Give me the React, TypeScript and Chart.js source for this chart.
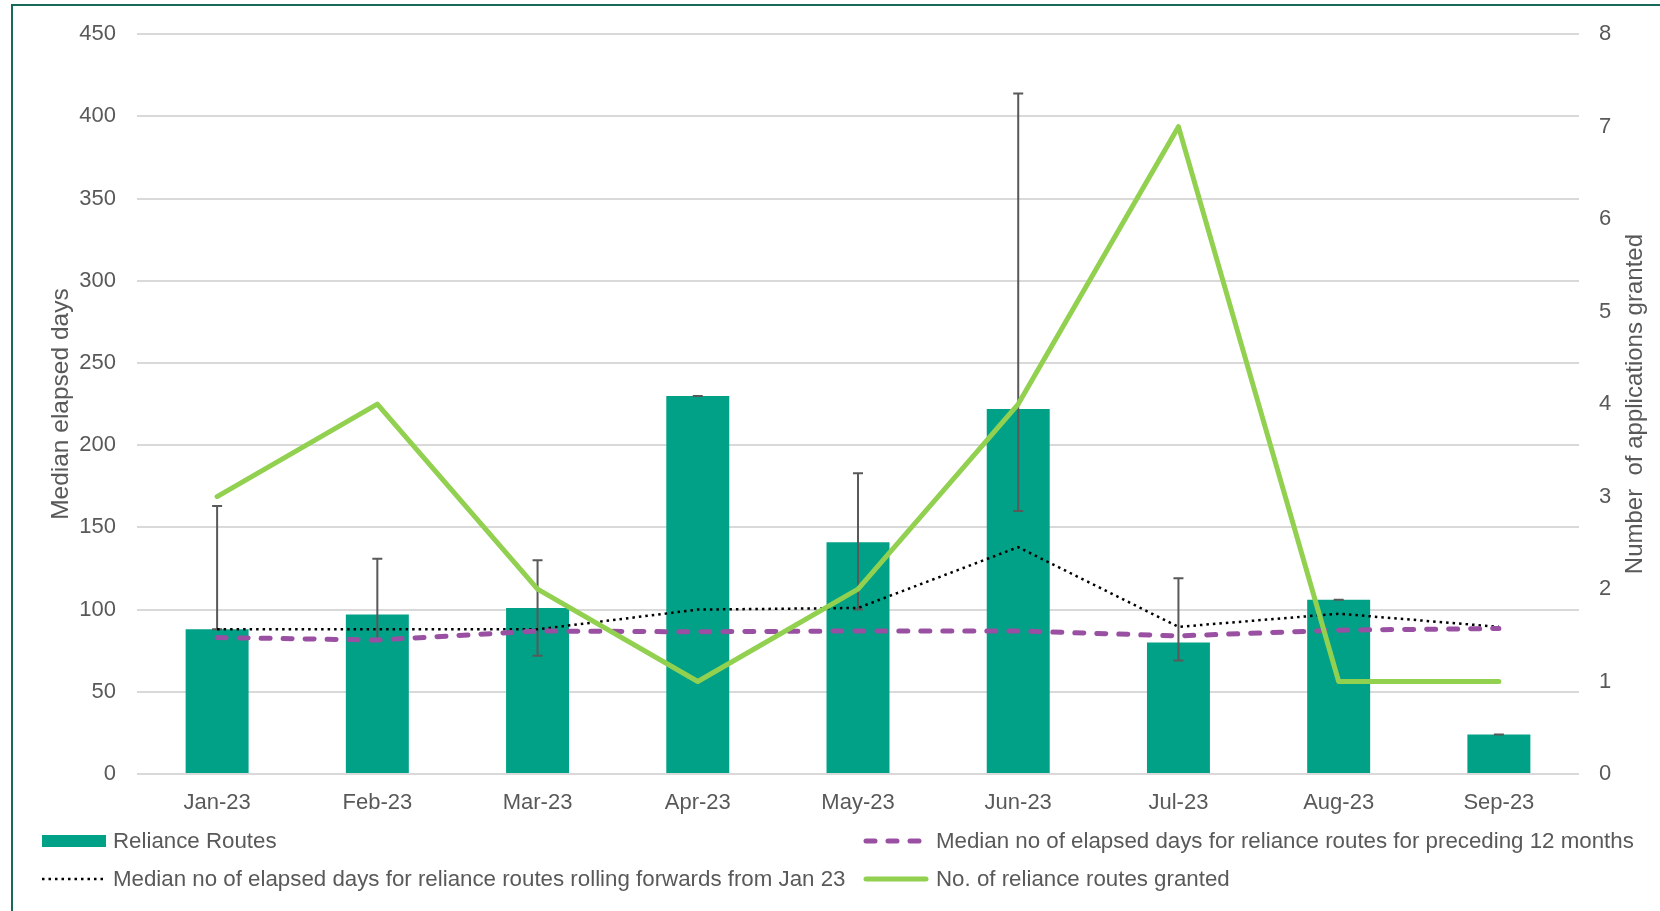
import React, { useEffect, useRef } from "react";
import { Chart, registerables } from "chart.js";

Chart.register(...registerables);

const categories = ["Jan-23", "Feb-23", "Mar-23", "Apr-23", "May-23", "Jun-23", "Jul-23", "Aug-23", "Sep-23"];
const relianceDays = [88, 97, 101, 230, 141, 222, 80, 106, 24];
const errHigh = [163, 131, 130, 230, 183, 414, 119, 106, 24];
const errLow = [88, 81, 72, 230, 100, 160, 69, 106, 24];
const preceding12 = [83, 81.5, 87, 86.5, 87, 87, 84, 87.5, 88.5];
const rollingJan = [88, 88, 88, 100, 101, 138, 89.5, 97.5, 89.5];
const granted = [3, 4, 2, 1, 2, 4, 7, 1, 1];
const leftTitle = "Median elapsed days";
const rightTitle = "Number  of applications granted";

const FONT = "'Liberation Sans', Arial, sans-serif";
const TEXT = "#595959";
const BAR = "#00a187";
const PURPLE = "#9a50a2";
const GREEN = "#92d050";

const errorBarPlugin = {
  id: "errorBars",
  afterDatasetDraw(chart: any, args: any) {
    if (args.index !== 0) return;
    const meta = chart.getDatasetMeta(0);
    const ys = chart.scales.y;
    const ctx = chart.ctx;
    ctx.save();
    ctx.strokeStyle = TEXT;
    ctx.lineWidth = 2;
    meta.data.forEach((bar: any, i: number) => {
      const x = bar.x;
      const yh = ys.getPixelForValue(errHigh[i]);
      const yl = ys.getPixelForValue(errLow[i]);
      ctx.beginPath();
      ctx.moveTo(x, yh);
      ctx.lineTo(x, yl);
      ctx.moveTo(x - 5, yh);
      ctx.lineTo(x + 5, yh);
      ctx.moveTo(x - 5, yl);
      ctx.lineTo(x + 5, yl);
      ctx.stroke();
    });
    ctx.restore();
  },
};

const rightTitlePlugin = {
  id: "rightTitle",
  afterDraw(chart: any) {
    const ctx = chart.ctx;
    const area = chart.chartArea;
    ctx.save();
    ctx.font = `24px ${FONT}`;
    ctx.fillStyle = TEXT;
    ctx.textAlign = "center";
    ctx.textBaseline = "middle";
    ctx.translate(1635, (area.top + area.bottom) / 2);
    ctx.rotate(-Math.PI / 2);
    ctx.fillText(rightTitle, 0, 0);
    ctx.restore();
  },
};

const legendPlugin = {
  id: "customLegend",
  afterDraw(chart: any) {
    const ctx = chart.ctx;
    const ds = chart.data.datasets;
    ctx.save();
    ctx.font = `22.3px ${FONT}`;
    ctx.fillStyle = TEXT;
    ctx.textBaseline = "middle";
    ctx.textAlign = "left";
    const items = [
      { ds: 0, x0: 42, x1: 106, y: 841, tx: 113 },
      { ds: 1, x0: 866, x1: 926, y: 841, tx: 936 },
      { ds: 2, x0: 42, x1: 103, y: 879, tx: 113 },
      { ds: 3, x0: 866, x1: 926, y: 879, tx: 936 },
    ];
    items.forEach((it) => {
      const d = ds[it.ds];
      ctx.save();
      if (it.ds === 0) {
        ctx.fillStyle = d.backgroundColor;
        ctx.fillRect(it.x0, it.y - 6, it.x1 - it.x0, 12);
      } else {
        ctx.strokeStyle = d.borderColor;
        ctx.lineWidth = d.borderWidth;
        ctx.lineCap = d.borderCapStyle || "butt";
        ctx.setLineDash(d.borderDash || []);
        ctx.beginPath();
        ctx.moveTo(it.x0, it.y);
        ctx.lineTo(it.x1, it.y);
        ctx.stroke();
      }
      ctx.restore();
      ctx.fillText(d.label, it.tx, it.y + 1);
    });
    ctx.restore();
  },
};

export default function App() {
  const ref = useRef<HTMLCanvasElement | null>(null);
  useEffect(() => {
    if (!ref.current) return;
    Chart.defaults.font.family = FONT;
    const chart = new Chart(ref.current, {
      type: "bar",
      data: {
        labels: categories,
        datasets: [
          {
            type: "bar",
            label: "Reliance Routes",
            data: relianceDays,
            backgroundColor: BAR,
            yAxisID: "y",
            categoryPercentage: 1,
            barPercentage: 0.393,
            order: 4,
          } as any,
          {
            type: "line",
            label: "Median no of elapsed days for reliance routes for preceding 12 months",
            data: preceding12,
            borderColor: PURPLE,
            backgroundColor: PURPLE,
            borderWidth: 5,
            borderDash: [9, 13],
            borderCapStyle: "round",
            pointRadius: 0,
            tension: 0,
            yAxisID: "y",
            order: 2,
          },
          {
            type: "line",
            label: "Median no of elapsed days for reliance routes rolling forwards from Jan 23",
            data: rollingJan,
            borderColor: "#000000",
            backgroundColor: "#000000",
            borderWidth: 2.5,
            borderDash: [2.5, 4],
            borderCapStyle: "butt",
            pointRadius: 0,
            tension: 0,
            yAxisID: "y",
            order: 3,
          },
          {
            type: "line",
            label: "No. of reliance routes granted",
            data: granted,
            borderColor: GREEN,
            backgroundColor: GREEN,
            borderWidth: 5,
            borderCapStyle: "round",
            borderJoinStyle: "round",
            pointRadius: 0,
            tension: 0,
            yAxisID: "y1",
            order: 1,
          },
        ],
      },
      options: {
        responsive: false,
        animation: false,
        events: [],
        layout: { padding: { left: 0, right: 0, top: 33, bottom: 87 } },
        plugins: { legend: { display: false }, tooltip: { enabled: false } },
        scales: {
          x: {
            grid: { display: false },
            border: { display: false },
            ticks: { color: TEXT, font: { size: 22 }, padding: 8, maxRotation: 0 },
            afterFit: (s: any) => {
              s.height = 50;
            },
          },
          y: {
            position: "left",
            min: 0,
            max: 450,
            ticks: { stepSize: 50, color: TEXT, font: { size: 22 }, padding: 21 },
            grid: { color: "#d9d9d9", lineWidth: 2, drawTicks: false },
            border: { display: false },
            title: {
              display: true,
              text: leftTitle,
              color: TEXT,
              font: { size: 24.5 },
              padding: { top: 47, bottom: 0 },
            },
            afterFit: (s: any) => {
              s.width = 137;
            },
          },
          y1: {
            position: "right",
            min: 0,
            max: 8,
            ticks: { stepSize: 1, color: TEXT, font: { size: 22 }, padding: 20 },
            grid: { drawOnChartArea: false, drawTicks: false },
            border: { display: false },
            afterFit: (s: any) => {
              s.width = 81;
            },
          },
        },
      },
      plugins: [errorBarPlugin, rightTitlePlugin, legendPlugin],
    } as any);
    return () => chart.destroy();
  }, []);

  return (
    <div style={{ position: "absolute", left: 0, top: 0, width: 1660, height: 911, overflow: "hidden", background: "#fff" }}>
      <div
        style={{
          position: "absolute",
          left: 11,
          top: 4,
          width: 1700,
          height: 1000,
          border: "2px solid #17695a",
          boxSizing: "border-box",
        }}
      />
      <canvas ref={ref} width={1660} height={911} style={{ position: "absolute", left: 0, top: 0, width: 1660, height: 911 }} />
    </div>
  );
}
